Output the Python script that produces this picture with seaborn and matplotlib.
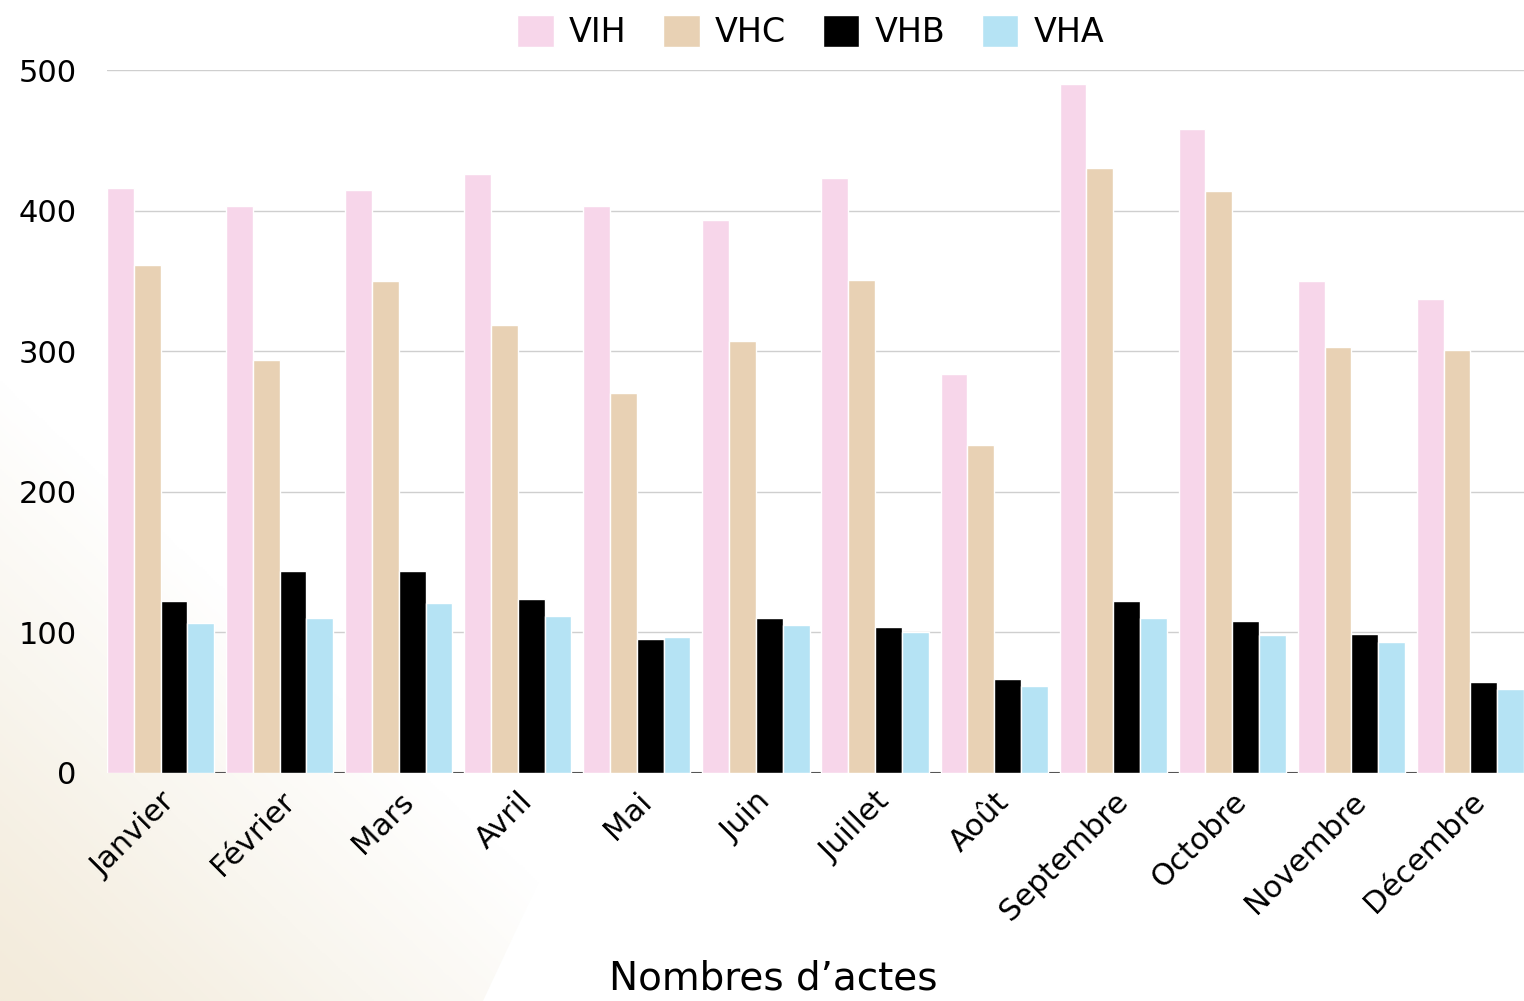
import numpy as np
import pandas as pd
import matplotlib
matplotlib.use("Agg")
import matplotlib.pyplot as plt
import seaborn as sns
from matplotlib.patches import Polygon
from matplotlib.colors import LinearSegmentedColormap

months = ["Janvier", "Février", "Mars", "Avril", "Mai", "Juin", "Juillet",
          "Août", "Septembre", "Octobre", "Novembre", "Décembre"]
vih = [416, 403, 415, 426, 403, 393, 423, 284, 490, 458, 350, 337]
vhc = [361, 294, 350, 319, 270, 307, 351, 233, 430, 414, 303, 301]
vhb = [122, 144, 144, 124, 95, 110, 104, 67, 122, 108, 99, 65]
vha = [107, 110, 121, 112, 97, 105, 100, 62, 110, 98, 93, 60]
series = ["VIH", "VHC", "VHB", "VHA"]
colors = ["#f7d6ea", "#e8d1b4", "#000000", "#b5e3f4"]

# long format for seaborn
df = pd.DataFrame({"mois": months, "VIH": vih, "VHC": vhc, "VHB": vhb, "VHA": vha})
df = df.melt(id_vars="mois", var_name="virus", value_name="actes")

sns.set_style("white")
plt.rcParams["font.family"] = ["DejaVu Sans"]
plt.rcParams["text.color"] = "black"

fig = plt.figure(figsize=(15.24, 10.01), dpi=100)

# beige gradient shape in the lower-left corner
bg = fig.add_axes([0, 0, 1, 1], zorder=-1)
bg.set_xlim(0, 1524)
bg.set_ylim(1001, 0)
bg.axis("off")
cmap = LinearSegmentedColormap.from_list("bg", ["#f3ebdb", "#f9f6ef", "#ffffff"])
xx, yy = np.meshgrid(np.linspace(0, 1, 300), np.linspace(0, 1, 300))
# diagonal fade from bottom-left towards upper-right
grad = np.clip((xx * 0.9 + (1 - yy)) ** 1.2, 0, 1)
im = bg.imshow(grad, cmap=cmap, extent=[0, 600, 1001, 380], aspect="auto")
shape = Polygon([(0, 380), (556, 845), (483, 1001), (0, 1001)], closed=True,
                transform=bg.transData, facecolor="none", edgecolor="none")
bg.add_patch(shape)
im.set_clip_path(shape)

ax = fig.add_axes([0.0702, 0.2278, 0.9298, 0.7022])
ax.patch.set_alpha(0)
sns.barplot(data=df, x="mois", y="actes", hue="virus", hue_order=series,
            palette=colors, saturation=1, width=0.9, edgecolor="white",
            linewidth=1, ax=ax, zorder=3)

ax.set_xlim(-0.45, 11.45)
ax.set_ylim(0, 500)
ax.set_yticks([0, 100, 200, 300, 400, 500])
ax.grid(axis="y", color="#cfcfcf", linewidth=1, zorder=0)
ax.axhline(0, color="#555555", linewidth=1.5, zorder=2)
for s in ax.spines.values():
    s.set_visible(False)
ax.tick_params(axis="both", length=0, labelsize=22, colors="black")
ax.tick_params(axis="y", pad=22)
ax.tick_params(axis="x", pad=10, labelsize=22)
plt.setp(ax.get_xticklabels(), rotation=45, ha="right", va="top",
         rotation_mode="anchor")
ax.set_ylabel("")
ax.set_xlabel("Nombres d’actes", fontsize=28, color="black")
ax.xaxis.set_label_coords(0.47, -0.266)

handles, labels = ax.get_legend_handles_labels()
leg = ax.legend(handles, labels, loc="upper center", bbox_to_anchor=(0.532, 1.015),
                bbox_transform=fig.transFigure, ncol=4, frameon=False, fontsize=24,
                handlelength=1.1, handleheight=1.1, columnspacing=1.1,
                handletextpad=0.45)
for t in leg.get_texts():
    t.set_color("black")

fig.savefig("out.png", dpi=100)
